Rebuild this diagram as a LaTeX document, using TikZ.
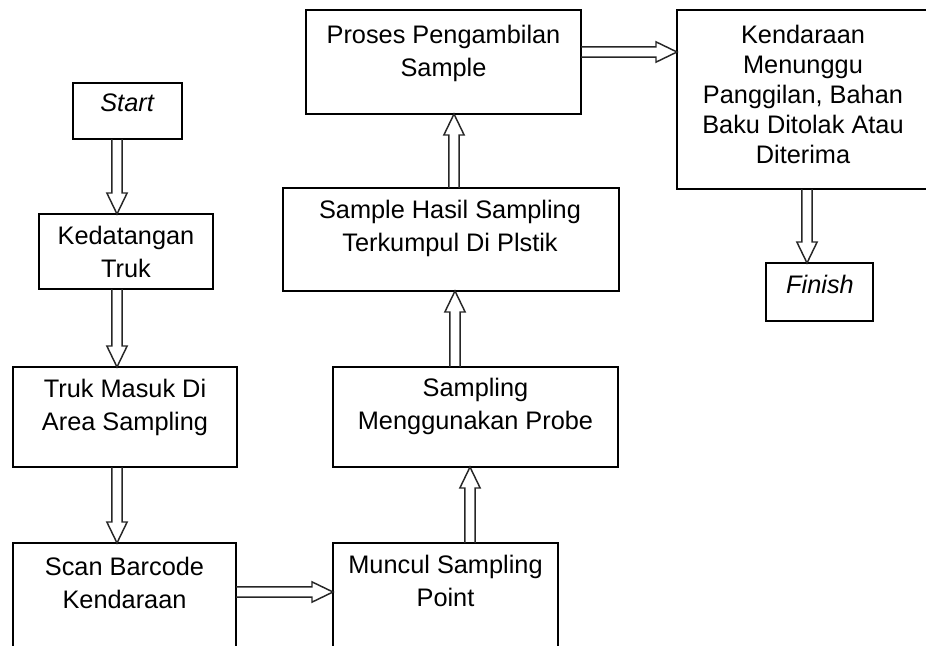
\documentclass[tikz,border=0pt]{standalone}
\usepackage{fontspec}
\setmainfont{Liberation Sans}
\usetikzlibrary{calc,fit}
\tikzset{
  box/.style={draw=black, line width=1.4pt, inner sep=0pt, outer sep=0pt, fill=white},
  txt/.style={anchor=base, align=center, inner sep=0pt, font=\fontsize{19}{24.75}\selectfont},
  arrowline/.style={draw=black!85, line width=1.1pt, line join=miter}
}
\newcommand\barrow[2]{%
  \path (#1) coordinate (s) (#2) coordinate (t) ($(t)!15.75pt!(s)$) coordinate (n);
  \draw[arrowline] ($(s)!3.9pt!90:(t)$) -- ($(n)!3.9pt!90:(t)$) -- ($(n)!7.6pt!90:(t)$)
     -- (t) -- ($(n)!7.6pt!-90:(t)$) -- ($(n)!3.9pt!-90:(t)$) -- ($(s)!3.9pt!-90:(t)$);
}
\begin{document}
\begin{tikzpicture}[x=0.75pt,y=-0.75pt]
\useasboundingbox (0,0) rectangle (926,646);
% boxes
\node[box, fit={(73,83) (182,139)}] (start) {};
\node[box, fit={(39,214) (213,289)}] (kedat) {};
\node[box, fit={(13,367) (237,467)}] (truk) {};
\node[box, fit={(13,543) (236,652)}] (scan) {};
\node[box, fit={(333,543) (558,652)}] (muncul) {};
\node[box, fit={(333,367) (618,467)}] (probe) {};
\node[box, fit={(283,188) (619,291)}] (hasil) {};
\node[box, fit={(306,10) (581,114)}] (proses) {};
\node[box, fit={(677,10) (934,189)}] (kend) {};
\node[box, fit={(766,263) (873,321)}] (finish) {};
% texts (base anchor = baseline of last line)
\node[txt] (start-t) at (127.5,111) {\textit{Start}};
\node[txt] (kedat-t) at (126,277) {Kedatangan\\Truk};
\node[txt] (truk-t) at (125,430) {Truk Masuk Di\\Area Sampling};
\node[txt] (scan-t) at (124.5,608) {Scan Barcode\\Kendaraan};
\node[txt] (muncul-t) at (445.5,606) {Muncul Sampling\\Point};
\node[txt] (probe-t) at (475.5,429) {Sampling\\Menggunakan Probe};
\node[txt] (hasil-t) at (450,251) {Sample Hasil Sampling\\Terkumpul Di Plstik};
\node[txt] (proses-t) at (443.5,76) {Proses Pengambilan\\Sample};
\node[txt, font=\fontsize{19}{22.5}\selectfont] (kend-t) at (803,163) {Kendaraan\\Menunggu\\Panggilan, Bahan\\Baku Ditolak Atau\\Diterima};
\node[txt] (finish-t) at (820,293) {\textit{Finish}};
% arrow guide coordinates
\coordinate (xl) at (117,0);
\coordinate (yb) at (0,592);
\coordinate (x5) at (470,0);
\coordinate (x6) at (455,0);
\coordinate (x7) at (454,0);
\coordinate (y8) at (0,52);
\coordinate (x9) at (807,0);
% arrows
\barrow{start.south -| xl}{kedat.north -| xl}
\barrow{kedat.south -| xl}{truk.north -| xl}
\barrow{truk.south -| xl}{scan.north -| xl}
\barrow{scan.east |- yb}{muncul.west |- yb}
\barrow{muncul.north -| x5}{probe.south -| x5}
\barrow{probe.north -| x6}{hasil.south -| x6}
\barrow{hasil.north -| x7}{proses.south -| x7}
\barrow{proses.east |- y8}{kend.west |- y8}
\barrow{kend.south -| x9}{finish.north -| x9}
\end{tikzpicture}
\end{document}
